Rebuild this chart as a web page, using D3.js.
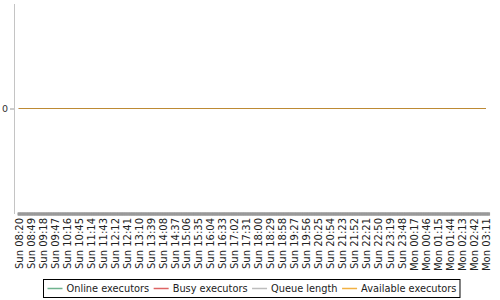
<!DOCTYPE html>
<html lang="en">
<head>
  <meta charset="UTF-8">
  <title>Load statistics</title>
  <script src="https://d3js.org/d3.v7.min.js"></script>
  <style>
    body {
      margin: 0;
      background: #fff;
    }
    svg {
      display: block;
      font-family: "DejaVu Sans", sans-serif;
    }
    .series-line {
      fill: none;
      stroke-width: 1.2px;
    }
  </style>
</head>
<body>
  <svg width="500" height="300"></svg>

  <script>
    // Tick labels / sample times
    const timeLabels = [
      "Sun 08:20", "Sun 08:49", "Sun 09:18", "Sun 09:47", "Sun 10:16", "Sun 10:45",
      "Sun 11:14", "Sun 11:43", "Sun 12:12", "Sun 12:41", "Sun 13:10", "Sun 13:39",
      "Sun 14:08", "Sun 14:37", "Sun 15:06", "Sun 15:35", "Sun 16:04", "Sun 16:33",
      "Sun 17:02", "Sun 17:31", "Sun 18:00", "Sun 18:29", "Sun 18:58", "Sun 19:27",
      "Sun 19:56", "Sun 20:25", "Sun 20:54", "Sun 21:23", "Sun 21:52", "Sun 22:21",
      "Sun 22:50", "Sun 23:19", "Sun 23:48", "Mon 00:17", "Mon 00:46", "Mon 01:15",
      "Mon 01:44", "Mon 02:13", "Mon 02:42", "Mon 03:11"
    ];

    const seriesNames = ["Online executors", "Busy executors", "Queue length", "Available executors"];

    const onlineExecutors = [0,0,0,0,0,0,0,0,0,0,0,0,0,0,0,0,0,0,0,0,0,0,0,0,0,0,0,0,0,0,0,0,0,0,0,0,0,0,0,0];
    const busyExecutors = [0,0,0,0,0,0,0,0,0,0,0,0,0,0,0,0,0,0,0,0,0,0,0,0,0,0,0,0,0,0,0,0,0,0,0,0,0,0,0,0];
    const queueLength = [0,0,0,0,0,0,0,0,0,0,0,0,0,0,0,0,0,0,0,0,0,0,0,0,0,0,0,0,0,0,0,0,0,0,0,0,0,0,0,0];
    const availableExecutors = [0,0,0,0,0,0,0,0,0,0,0,0,0,0,0,0,0,0,0,0,0,0,0,0,0,0,0,0,0,0,0,0,0,0,0,0,0,0,0,0];

    const yTicks = [0];

    const svg = d3.select("svg");
    const plot = { left: 18, right: 490, top: 4, bottom: 212, axisX: 14 };

    // turn "Sun 08:20" into a real date (a Sunday in Jan 2024)
    const toDate = s => {
      const [day, hm] = s.split(" ");
      const [h, m] = hm.split(":").map(Number);
      return new Date(2024, 0, day === "Sun" ? 7 : 8, h, m);
    };
    const times = timeLabels.map(toDate);

    const x = d3.scaleTime()
      .domain([d3.timeMinute.offset(times[0], -2), d3.timeMinute.offset(times[times.length - 1], 10)])
      .range([plot.left, plot.right]);

    const y = d3.scaleLinear()
      .domain([-1, 1])
      .range([plot.bottom + 1, plot.top]);

    const colors = d3.scaleOrdinal()
      .domain(seriesNames)
      .range(["#6fb38e", "#de6464", "#bdbdbd", "#f2b143"]);

    // Y axis
    const yAxis = svg.append("g")
      .attr("transform", `translate(${plot.axisX},0)`)
      .call(d3.axisLeft(y).tickValues(yTicks).tickSize(4).tickPadding(2).tickFormat(d3.format("d")));
    yAxis.select(".domain").attr("d", `M0.5,${plot.top}V${plot.bottom + 2}`).attr("stroke", "#c4c4c4");
    yAxis.selectAll(".tick line").attr("stroke", "#999");
    yAxis.selectAll(".tick text").attr("font-size", 9.5).attr("fill", "#333").attr("font-family", "DejaVu Sans");

    // dense per-minute category ticks
    const minuteTicks = d3.timeMinute.range(x.domain()[0], x.domain()[1]);
    svg.append("g")
      .attr("class", "minute-ticks")
      .selectAll("line")
      .data(minuteTicks)
      .join("line")
      .attr("x1", d => x(d))
      .attr("x2", d => x(d))
      .attr("y1", plot.bottom + 0.5)
      .attr("y2", plot.bottom + 3.5)
      .attr("stroke", "#999")
      .attr("stroke-width", 1);

    // labelled ticks
    const labelAxis = svg.append("g")
      .attr("transform", `translate(0,${plot.bottom + 6})`)
      .call(d3.axisBottom(x).tickValues(times).tickSize(0).tickFormat((d, i) => timeLabels[i]));
    labelAxis.select(".domain").remove();
    labelAxis.selectAll(".tick text")
      .attr("font-size", 10)
      .attr("font-family", "DejaVu Sans")
      .attr("fill", "#222")
      .attr("transform", "rotate(-90)")
      .attr("text-anchor", "end")
      .attr("x", 0)
      .attr("y", 0)
      .attr("dy", "0.35em");

    // Series lines
    const seriesData = [onlineExecutors, busyExecutors, queueLength, availableExecutors];
    const line = d3.line()
      .x((d, i) => x(times[i]))
      .y(d => y(d));

    seriesData.forEach((values, k) => {
      svg.append("path")
        .datum(values)
        .attr("class", "series-line")
        .attr("stroke", d3.color(colors(seriesNames[k])).darker(0.7))
        .attr("d", line);
    });

    // Legend
    const legend = svg.append("g").attr("transform", "translate(43.5,279.5)");
    const box = legend.append("rect")
      .attr("height", 18)
      .attr("fill", "#fff")
      .attr("stroke", "#000")
      .attr("stroke-width", 1);

    let cx = 4;
    seriesNames.forEach(name => {
      legend.append("line")
        .attr("x1", cx).attr("x2", cx + 15)
        .attr("y1", 9).attr("y2", 9)
        .attr("stroke", colors(name))
        .attr("stroke-width", 1.5);
      const t = legend.append("text")
        .attr("x", cx + 19)
        .attr("y", 9)
        .attr("dy", "0.35em")
        .attr("font-size", 9.8)
        .attr("fill", "#222")
        .text(name);
      cx += 19 + t.node().getComputedTextLength() + 4.5;
    });
    box.attr("width", cx - 1);
  </script>
</body>
</html>
